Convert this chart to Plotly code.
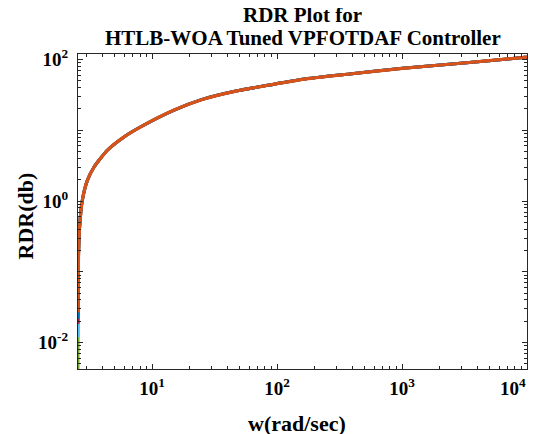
import plotly.graph_objects as go

# frequency (rad/sec) and RDR values
w = [2.55, 2.58, 2.65, 2.76, 3.03, 3.43, 4.38, 5.96, 8.11, 15.0, 25.2, 46.9, 86.7,
     160, 380, 1012, 3281, 9617, 10000]
rdr = [0.0269, 0.200, 0.533, 1.02, 1.96, 3.03, 5.22, 8.06, 11.2, 19.3, 27.3, 35.8, 43.6,
       52.5, 62.4, 75.0, 90.1, 107.4, 108.0]

# starting values of the overlapped traces (only their low tips are visible)
start_green = 0.003
start_cyan = 0.0119
start_red = 0.0184
start_blue = 0.0217

series = [
    ("green", "#77AC30", start_green),
    ("cyan", "#4DBEEE", start_cyan),
    ("red", "#A2142F", start_red),
    ("blue", "#0072BD", start_blue),
]

x_ticks = [10, 100, 1000, 10000]
x_text = ["<b>10<sup>1</sup></b>", "<b>10<sup>2</sup></b>", "<b>10<sup>3</sup></b>",
          "<b>10<sup>4</sup></b>" + "&nbsp;" * 6]
y_ticks = [0.01, 0.1, 1, 10, 100]
y_text = ["<b>10<sup>-2</sup></b>", "", "<b>10<sup>0</sup></b>", "", "<b>10<sup>2</sup></b>"]

x_minor = [m * 10 ** d for d in range(0, 4) for m in range(2, 10)]
y_minor = [m * 10.0 ** d for d in range(-3, 2) for m in range(2, 10)]

x_range = [0.4066, 4.0]
y_range = [-2.373, 2.078]

fig = go.Figure()
for name, col, s in series:
    fig.add_trace(go.Scatter(x=w, y=[s] + rdr[1:], mode="lines", name=name,
                             line=dict(color=col, width=3, shape="spline", smoothing=0.6),
                             showlegend=False, hoverinfo="skip"))
fig.add_trace(go.Scatter(x=w, y=rdr, mode="lines", name="RDR",
                         line=dict(color="#D95319", width=3.2, shape="spline", smoothing=0.6),
                         showlegend=False))
# invisible trace that carries the minor-tick overlay axes
fig.add_trace(go.Scatter(x=w, y=rdr, mode="lines", xaxis="x2", yaxis="y2",
                         line=dict(width=0, color="rgba(0,0,0,0)"), showlegend=False,
                         hoverinfo="skip"))

font_fam = "Liberation Serif, Times New Roman, serif"
dark = "#262626"
major = dict(type="log", showgrid=False, zeroline=False, showline=True, automargin=False,
             linecolor=dark, linewidth=1, mirror="ticks", ticks="inside",
             ticklen=5, tickcolor=dark, tickwidth=1, ticklabeloverflow="allow",
             tickfont=dict(family=font_fam, size=19, color="black"))
minor = dict(type="log", showgrid=False, zeroline=False, showline=False, automargin=False,
             mirror="ticks", ticks="inside", ticklen=3, tickcolor=dark, tickwidth=1,
             showticklabels=False)

# the page body has an 8px margin, so the figure is sized to fit the window from (8, 8)
fig.update_layout(
    width=532, height=426,
    margin=dict(l=70, r=13, t=46, b=65),
    paper_bgcolor="white", plot_bgcolor="white",
    xaxis=dict(range=x_range, tickvals=x_ticks, ticktext=x_text, ticklabelstandoff=2, **major),
    yaxis=dict(range=y_range, tickvals=y_ticks, ticktext=y_text, ticklabelstandoff=5, **major),
    xaxis2=dict(range=x_range, tickvals=x_minor, overlaying="x", anchor="y", **minor),
    yaxis2=dict(range=y_range, tickvals=y_minor, overlaying="y", anchor="x", **minor),
    annotations=[
        dict(text="<b>RDR Plot for</b>", xref="paper", yref="paper", x=0.5, y=1,
             xanchor="center", yanchor="middle", yshift=54 - 15, showarrow=False,
             font=dict(family=font_fam, size=21, color="black")),
        dict(text="<b>HTLB-WOA Tuned VPFOTDAF Controller</b>", xref="paper", yref="paper",
             x=0.5, y=1, xanchor="center", yanchor="middle", yshift=54 - 38, showarrow=False,
             font=dict(family=font_fam, size=21, color="black")),
        dict(text="<b>w(rad/sec)</b>", xref="paper", yref="paper", x=0.5, y=0,
             xanchor="center", yanchor="middle", yshift=-54, xshift=-6, showarrow=False,
             font=dict(family=font_fam, size=22, color="black")),
        dict(text="<b>RDR(db)</b>", xref="paper", yref="paper", x=0, y=0.5,
             xanchor="center", yanchor="middle", xshift=-53, yshift=-5, textangle=-90,
             showarrow=False, font=dict(family=font_fam, size=22, color="black")),
    ],
)

fig.write_html("out.html")
